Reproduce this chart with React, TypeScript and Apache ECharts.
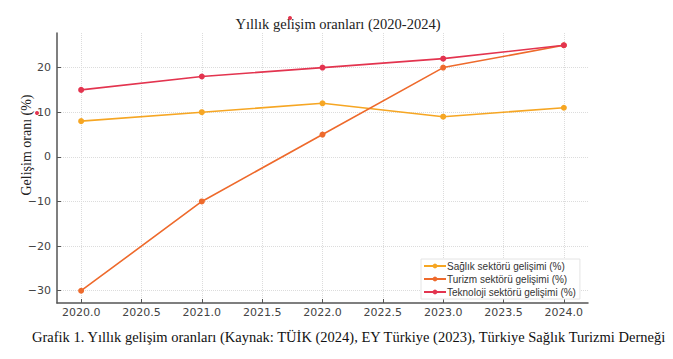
import React, { useEffect, useRef } from "react";
import * as echarts from "echarts";

const years = [2020, 2021, 2022, 2023, 2024];
const saglik = [8, 10, 12, 9, 11];
const turizm = [-30, -10, 5, 20, 25];
const teknoloji = [15, 18, 20, 22, 25];
const xTicks = [2020, 2020.5, 2021, 2021.5, 2022, 2022.5, 2023, 2023.5, 2024];
const yTicks = [-30, -20, -10, 0, 10, 20];
const seriesNames = [
  "Sağlık sektörü gelişimi (%)",
  "Turizm sektörü gelişimi (%)",
  "Teknoloji sektörü gelişimi (%)",
];
const colors = ["#f6a623", "#ee6a2c", "#e3344f"];
const title = "Yıllık gelişim oranları (2020-2024)";
const yLabel = "Gelişim oranı (%)";
const caption =
  "Grafik 1. Yıllık gelişim oranları (Kaynak: TÜİK (2024), EY Türkiye (2023), Türkiye Sağlık Turizmi Derneği";

export default function App() {
  const ref = useRef<HTMLDivElement>(null);
  useEffect(() => {
    if (!ref.current) return;
    const chart = echarts.init(ref.current, null, { renderer: "svg" });
    const serif = "'Liberation Serif', 'Times New Roman', serif";
    const sans = "'DejaVu Sans', sans-serif";
    const mk = (name: string, vals: number[], color: string) => ({
      name,
      type: "line",
      data: years.map((y, i) => [y, vals[i]]),
      symbol: "circle",
      symbolSize: 6,
      lineStyle: { color, width: 1.6 },
      itemStyle: { color },
      z: 3,
    });
    chart.setOption({
      animation: false,
      backgroundColor: "#ffffff",
      grid: { left: 57, top: 33, right: 85, bottom: 56 },
      xAxis: {
        type: "value",
        min: 2019.8,
        max: 2024.2,
        axisLine: { show: true, onZero: false, lineStyle: { color: "#555", width: 1.5 } },
        axisTick: {
          show: true,
          inside: true,
          length: 4,
          customValues: xTicks,
          lineStyle: { color: "#555" },
        },
        axisLabel: {
          customValues: xTicks,
          formatter: (v: number) => v.toFixed(1),
          color: "#444",
          fontFamily: sans,
          fontSize: 11,
          margin: 4,
        },
        splitLine: {
          show: true,
          lineStyle: { color: "#dcdcdc", type: "dotted", width: 1 },
        },
      },
      yAxis: {
        type: "value",
        min: -32.75,
        max: 27.75,
        axisLine: { show: true, onZero: false, lineStyle: { color: "#555", width: 1.5 } },
        axisTick: {
          show: true,
          inside: true,
          length: 4,
          customValues: yTicks,
          lineStyle: { color: "#555" },
        },
        axisLabel: {
          customValues: yTicks,
          formatter: (v: number) => (v < 0 ? "\u2212" + Math.abs(v) : String(v)),
          color: "#444",
          fontFamily: sans,
          fontSize: 11,
          margin: 6,
        },
        splitLine: {
          show: true,
          lineStyle: { color: "#dcdcdc", type: "dotted", width: 1 },
        },
      },
      legend: {
        orient: "vertical",
        left: 421,
        top: 259,
        itemWidth: 22,
        itemHeight: 6,
        itemGap: 3,
        padding: [2, 4, 2, 2],
        backgroundColor: "#ffffff",
        borderColor: "#e4e4e4",
        borderWidth: 1,
        textStyle: {
          fontFamily: "'Liberation Sans', Arial, sans-serif",
          fontSize: 10,
          color: "#333",
          padding: [0, 0, 0, -4],
        },
        data: seriesNames,
      },
      series: [
        mk(seriesNames[0], saglik, colors[0]),
        mk(seriesNames[1], turizm, colors[1]),
        mk(seriesNames[2], teknoloji, colors[2]),
      ],
      graphic: [
        {
          type: "text",
          x: 338,
          y: 24,
          style: {
            text: title,
            font: `14.5px ${serif}`,
            fill: "#222",
            align: "center",
            verticalAlign: "middle",
          },
        },
        {
          type: "text",
          x: 26,
          y: 145,
          rotation: Math.PI / 2,
          style: {
            text: yLabel,
            font: `14px ${serif}`,
            fill: "#222",
            align: "center",
            verticalAlign: "middle",
          },
        },
        {
          type: "text",
          x: 32,
          y: 337,
          style: {
            text: caption,
            font: `14.5px ${serif}`,
            fill: "#111",
            verticalAlign: "middle",
          },
        },
        { type: "circle", shape: { cx: 37, cy: 113, r: 2 }, style: { fill: "#e3344f" } },
        { type: "circle", shape: { cx: 290, cy: 18, r: 2 }, style: { fill: "#e3344f" } },
      ],
    });
    return () => chart.dispose();
  }, []);
  return <div ref={ref} style={{ width: 673, height: 359, position: "absolute", left: 0, top: 0 }} />;
}
